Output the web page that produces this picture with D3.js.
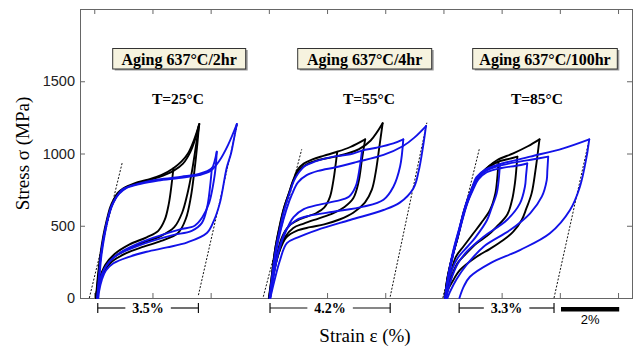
<!DOCTYPE html>
<html lang="en">
<head>
<meta charset="utf-8">
<title>Superelastic loops after aging</title>
<style>
  body { margin: 0; background: white; }
  svg { display: block; }
</style>
<script src="https://cdn.jsdelivr.net/npm/d3@7"></script>
</head>
<body>
<script>
// strain in % (local to each panel), stress in MPa
let panelShift = [0, 6, 12]
let agingLabels = ["Aging 637°C/2hr", "Aging 637°C/4hr", "Aging 637°C/100hr"]
let tempLabels = ["T=25°C", "T=55°C", "T=85°C"]
let yTicks = [0, 500, 1000, 1500]
let xTicks = [0, 2, 4, 6, 8, 10, 12, 14, 16, 18]

// panel 1, T=25°C
let p1BlackLoad = [
  [[0.06,0],[0.11,120],[0.2,286],[0.31,430],[0.43,540],[0.55,630],[0.66,678],[0.8,725],[1.0,759],[1.4,795],[1.8,817],[2.3,850],[2.72,898],[3.0,945],[3.22,1000],[3.43,1095],[3.61,1204]],
  [[0.07,0],[0.13,130],[0.23,300],[0.35,450],[0.5,580],[0.66,665],[0.85,725],[1.1,765],[1.6,800],[2.2,835],[2.72,880],[3.05,930],[3.3,1010],[3.47,1100],[3.6,1200]]
]
let p1BlackUnload = [
  [[2.72,898],[2.66,790],[2.56,650],[2.42,540],[2.2,465],[1.8,420],[1.2,370],[0.7,305],[0.38,230],[0.17,120],[0.07,0]],
  [[3.61,1204],[3.5,1060],[3.36,880],[3.2,720],[3.02,590],[2.75,490],[2.3,430],[1.7,385],[1.1,335],[0.6,270],[0.3,190],[0.13,90],[0.06,0]],
  [[3.6,1200],[3.53,1040],[3.43,860],[3.32,700],[3.15,550],[2.88,450],[2.3,395],[1.7,355],[1.1,310],[0.6,250],[0.3,170],[0.12,80],[0.06,0]]
]
let p1BlueLoad = [
  [[0.1,0],[0.15,120],[0.22,286],[0.33,430],[0.45,540],[0.58,630],[0.7,680],[0.85,725],[1.0,755],[1.4,785],[1.8,805],[2.4,825],[3.0,840],[3.6,858],[4.04,898],[4.14,950],[4.21,1012]],
  [[0.11,0],[0.17,130],[0.25,300],[0.37,450],[0.5,570],[0.66,660],[0.85,720],[1.1,760],[1.6,790],[2.2,812],[2.9,830],[3.6,850],[4.0,880],[4.3,950],[4.6,1060],[4.9,1204]]
]
let p1BlueUnload = [
  [[4.04,898],[3.98,770],[3.88,630],[3.7,520],[3.35,465],[2.7,435],[2.0,395],[1.3,345],[0.7,285],[0.36,205],[0.17,100],[0.11,0]],
  [[4.21,1012],[4.17,900],[4.1,800],[3.95,660],[3.72,560],[3.45,500],[2.95,475],[2.3,435],[1.6,385],[0.9,315],[0.45,235],[0.2,120],[0.12,0]],
  [[4.9,1204],[4.8,1100],[4.7,1000],[4.55,900],[4.32,660],[4.1,530],[3.87,450],[3.2,385],[2.5,350],[1.8,320],[1.2,285],[0.66,240],[0.4,190],[0.26,125],[0.17,50],[0.14,0]]
]
let p1Elastic = [[[-0.17,0],[0.96,936]], [[3.58,20],[4.92,1204]]]

// panel 2, T=55°C
let p2BlackLoad = [
  [[0.0,0],[0.08,120],[0.21,330],[0.35,480],[0.5,610],[0.68,720],[0.84,817],[1.0,890],[1.2,930],[1.5,960],[1.9,985],[2.35,1012],[2.8,1045],[3.31,1098]],
  [[0.01,0],[0.09,130],[0.22,340],[0.37,490],[0.52,620],[0.7,730],[0.86,820],[1.05,885],[1.3,925],[1.7,955],[2.2,975],[2.7,1000],[3.1,1030],[3.5,1090],[3.91,1209]]
]
let p2BlackUnload = [
  [[2.35,1012],[2.28,900],[2.22,816],[2.1,700],[1.9,625],[1.65,590],[1.07,545],[0.7,500],[0.45,420],[0.28,300],[0.13,150],[0.02,0]],
  [[3.31,1098],[3.2,960],[3.08,800],[2.9,690],[2.6,630],[2.2,585],[1.7,550],[1.2,515],[0.84,485],[0.55,420],[0.32,300],[0.14,150],[0.03,0]],
  [[3.91,1209],[3.8,1050],[3.68,880],[3.54,750],[3.3,660],[2.9,590],[2.45,545],[1.9,510],[1.42,490],[0.95,465],[0.6,420],[0.36,320],[0.16,160],[0.04,0]]
]
let p2BlueLoad = [
  [[0.02,0],[0.1,130],[0.23,330],[0.38,480],[0.53,610],[0.7,720],[0.86,810],[1.0,860],[1.25,915],[1.6,945],[2.22,978],[2.8,995],[3.2,1020],[3.7,1040],[4.28,1070],[4.62,1098]],
  [[0.03,0],[0.12,130],[0.26,330],[0.42,480],[0.6,610],[0.8,720],[1.0,800],[1.3,850],[1.7,880],[2.3,905],[3.0,940],[3.94,990],[4.6,1050],[5.0,1110],[5.4,1190]]
]
let p2BlueUnload = [
  [[3.2,1020],[3.12,900],[2.98,770],[2.75,700],[2.3,670],[1.7,645],[1.2,615],[0.85,560],[0.58,460],[0.35,330],[0.15,150],[0.04,0]],
  [[4.62,1098],[4.51,910],[4.28,770],[3.94,680],[3.25,632],[2.22,597],[1.4,570],[0.95,540],[0.62,480],[0.38,360],[0.18,170],[0.05,0]],
  [[5.4,1190],[5.3,1050],[5.15,880],[4.97,760],[4.5,660],[3.94,609],[2.79,540],[1.65,470],[1.0,420],[0.62,379],[0.38,260],[0.18,110],[0.05,0]]
]
let p2Elastic = [[[-0.19,9],[1.13,1029]], [[4.17,9],[5.43,1213]]]

// panel 3, T=85°C
let p3BlackLoad = [
  [[0.05,0],[0.13,130],[0.28,270],[0.46,401],[0.7,600],[0.91,724],[1.07,800],[1.26,851],[1.5,900],[1.71,930],[1.89,940]],
  [[0.06,0],[0.14,130],[0.3,280],[0.48,410],[0.72,600],[0.93,720],[1.1,800],[1.3,855],[1.6,910],[1.9,945],[2.2,960],[2.54,978]],
  [[0.05,0],[0.13,130],[0.29,275],[0.47,405],[0.71,600],[0.92,722],[1.08,800],[1.28,860],[1.55,910],[1.85,955],[2.4,1001],[2.9,1050],[3.3,1098]]
]
let p3BlackUnload = [
  [[1.89,940],[1.85,830],[1.78,720],[1.6,609],[1.3,520],[1.03,448],[0.7,360],[0.43,286],[0.25,170],[0.1,50],[0.05,0]],
  [[2.54,978],[2.5,880],[2.46,800],[2.36,680],[2.2,580],[1.83,493],[1.5,430],[1.14,379],[0.75,300],[0.48,240],[0.25,130],[0.07,0]],
  [[3.3,1098],[3.24,1000],[3.16,880],[3.03,724],[2.85,620],[2.69,540],[2.4,460],[2.06,401],[1.6,340],[1.14,286],[0.57,194],[0.3,110],[0.15,55],[0.08,0]]
]
let p3BlueLoad = [
  [[0.06,0],[0.17,150],[0.35,330],[0.55,480],[0.8,660],[1.0,760],[1.14,828],[1.49,886],[1.94,925]],
  [[0.07,0],[0.18,150],[0.37,330],[0.57,480],[0.82,655],[1.02,750],[1.2,820],[1.49,870],[2.0,900],[2.5,915],[2.88,931]],
  [[0.06,0],[0.17,150],[0.36,330],[0.56,480],[0.81,660],[1.01,760],[1.16,830],[1.5,885],[1.83,910],[2.5,940],[3.1,960],[3.6,978]],
  [[0.06,0],[0.16,150],[0.34,330],[0.54,480],[0.79,660],[0.99,765],[1.13,835],[1.45,890],[1.83,920],[2.98,978],[4.12,1036],[5.01,1098]]
]
let p3BlueUnload = [
  [[1.94,925],[1.9,820],[1.83,724],[1.65,620],[1.5,540],[1.1,420],[0.85,360],[0.5,280],[0.3,200],[0.15,100],[0.08,0]],
  [[2.88,931],[2.84,850],[2.8,770],[2.63,655],[2.18,540],[1.38,424],[0.8,320],[0.5,240],[0.25,120],[0.1,0]],
  [[3.6,978],[3.57,880],[3.55,816],[3.38,701],[2.98,586],[2.29,470],[1.38,355],[0.8,230],[0.45,130],[0.22,40],[0.14,0]],
  [[5.01,1098],[4.97,1040],[4.92,978],[4.69,770],[4.35,609],[3.66,448],[2.63,332],[1.6,240],[0.91,147],[0.7,80],[0.55,0]]
]
let p3Elastic = [[[-0.02,0],[1.23,1029]], [[3.8,0],[5.01,1098]]]

// recoverable strain brackets (axis strain)
let bracketFrom = [0.12, 6.04, 12.54]
let bracketTo = [3.58, 10.17, 15.8]
let bracketLabels = ["3.5%", "4.2%", "3.3%"]
let scaleBar = [16.04, 18.04]
let scaleBarLabel = "2%"

let width = 638
let height = 349
let serif = '"Liberation Serif", "Times New Roman", serif'
let sans = '"Liberation Sans", Arial, sans-serif'
let black = "#000"
let blue = "#1212e8"

let svg = d3.select("body").append("svg")
    .attr("width", width)
    .attr("height", height)

let x = d3.scaleLinear().domain([-0.49, 18.48]).range([80, 632])
let y = d3.scaleLinear().domain([0, 2000]).range([298, 9])

// axes, ticks pointing inward
let axisColor = "#666"
let styleAxis = (g) => {
    g.select(".domain").remove()
    g.selectAll(".tick line").attr("stroke", axisColor)
    g.selectAll(".tick text").attr("font-family", sans).attr("font-size", 14.5).attr("fill", "#222")
}
svg.append("g").attr("transform", `translate(0,${y(0)})`)
    .call(d3.axisBottom(x).tickValues(xTicks).tickSizeInner(-5).tickSizeOuter(0).tickFormat(""))
    .call(styleAxis)
svg.append("g").attr("transform", `translate(0,${y(2000)})`)
    .call(d3.axisTop(x).tickValues(xTicks).tickSizeInner(-5).tickSizeOuter(0).tickFormat(""))
    .call(styleAxis)
svg.append("g").attr("transform", `translate(${x.range()[0]},0)`)
    .call(d3.axisLeft(y).tickValues(yTicks).tickSizeInner(-5).tickSizeOuter(0).tickPadding(5).tickFormat(d3.format("d")))
    .call(styleAxis)
svg.append("g").attr("transform", `translate(${x.range()[1]},0)`)
    .call(d3.axisRight(y).tickValues(yTicks.slice(1)).tickSizeInner(-5).tickSizeOuter(0).tickFormat(""))
    .call(styleAxis)
svg.append("rect")
    .attr("x", x.range()[0] + 0.5).attr("y", y(2000) + 0.5)
    .attr("width", x.range()[1] - x.range()[0]).attr("height", y(0) - y(2000))
    .attr("fill", "none").attr("stroke", axisColor)

// axis titles
svg.append("text")
    .attr("transform", `translate(29,${(y(0) + y(2000)) / 2}) rotate(-90)`)
    .attr("text-anchor", "middle")
    .attr("font-family", serif).attr("font-size", 19)
    .text("Stress σ (MPa)")
svg.append("text")
    .attr("x", 365).attr("y", 342)
    .attr("text-anchor", "middle")
    .attr("font-family", serif).attr("font-size", 19)
    .text("Strain ε (%)")

// loops
let panels = [
    {black: [p1BlackLoad, p1BlackUnload], blue: [p1BlueLoad, p1BlueUnload], elastic: p1Elastic},
    {black: [p2BlackLoad, p2BlackUnload], blue: [p2BlueLoad, p2BlueUnload], elastic: p2Elastic},
    {black: [p3BlackLoad, p3BlackUnload], blue: [p3BlueLoad, p3BlueUnload], elastic: p3Elastic}
]

panels.forEach((p, i) => {
    let shift = panelShift[i]
    let line = d3.line()
        .x((d) => x(d[0] + shift))
        .y((d) => y(d[1]))
        .curve(d3.curveCatmullRom.alpha(0.5))
    let g = svg.append("g")

    p.elastic.forEach((seg) => {
        g.append("path")
            .attr("d", d3.line().x((d) => x(d[0] + shift)).y((d) => y(d[1]))(seg))
            .attr("fill", "none").attr("stroke", "#111")
            .attr("stroke-width", 1).attr("stroke-dasharray", "2,1.6")
    })

    let drawSet = (sets, color) => {
        sets.forEach((set) => {
            set.forEach((curve) => {
                g.append("path")
                    .attr("d", line(curve))
                    .attr("fill", "none")
                    .attr("stroke", color)
                    .attr("stroke-width", 1.9)
                    .attr("stroke-linejoin", "round")
                    .attr("stroke-linecap", "round")
            })
        })
    }
    drawSet(p.black, black)
    drawSet(p.blue, blue)
})

// labels above each panel
let boxes = [[112.7, 245.7], [297.7, 431.7], [472.7, 617.3]]
let tempX = [178, 369, 537]
agingLabels.forEach((lab, i) => {
    let [x0, x1] = boxes[i]
    svg.append("rect")
        .attr("x", x0 + 2).attr("y", 50)
        .attr("width", x1 - x0).attr("height", 20.5)
        .attr("fill", "#9a9a9a")
    svg.append("rect")
        .attr("x", x0).attr("y", 48.5)
        .attr("width", x1 - x0).attr("height", 20.5)
        .attr("fill", "#f6f3df").attr("stroke", "#333").attr("stroke-width", 1)
    svg.append("text")
        .attr("x", (x0 + x1) / 2).attr("y", 64.5)
        .attr("text-anchor", "middle")
        .attr("font-family", serif).attr("font-size", 16).attr("font-weight", "bold")
        .text(lab)
    svg.append("text")
        .attr("x", tempX[i]).attr("y", 104)
        .attr("text-anchor", "middle")
        .attr("font-family", serif).attr("font-size", 15.5).attr("font-weight", "bold")
        .text(tempLabels[i])
})

// recoverable strain brackets
let by = 308
bracketLabels.forEach((lab, i) => {
    let a = x(bracketFrom[i])
    let b = x(bracketTo[i])
    let g = svg.append("g").attr("stroke", "#111").attr("stroke-width", 1.2)
    g.append("line").attr("x1", a).attr("x2", a).attr("y1", by - 5).attr("y2", by + 5)
    g.append("line").attr("x1", b).attr("x2", b).attr("y1", by - 5).attr("y2", by + 5)
    let t = svg.append("text")
        .attr("x", (a + b) / 2).attr("y", by + 5)
        .attr("text-anchor", "middle")
        .attr("font-family", serif).attr("font-size", 14).attr("font-weight", "bold")
        .text(lab)
    let bb = t.node().getBBox()
    g.append("line").attr("x1", a).attr("x2", bb.x - 7).attr("y1", by).attr("y2", by)
    g.append("line").attr("x1", bb.x + bb.width + 7).attr("x2", b).attr("y1", by).attr("y2", by)
})

// 2% scale bar
svg.append("rect")
    .attr("x", x(scaleBar[0])).attr("y", 307)
    .attr("width", x(scaleBar[1]) - x(scaleBar[0])).attr("height", 4.5)
    .attr("fill", "#000")
svg.append("text")
    .attr("x", (x(scaleBar[0]) + x(scaleBar[1])) / 2).attr("y", 324)
    .attr("text-anchor", "middle")
    .attr("font-family", sans).attr("font-size", 13)
    .text(scaleBarLabel)
</script>
</body>
</html>
